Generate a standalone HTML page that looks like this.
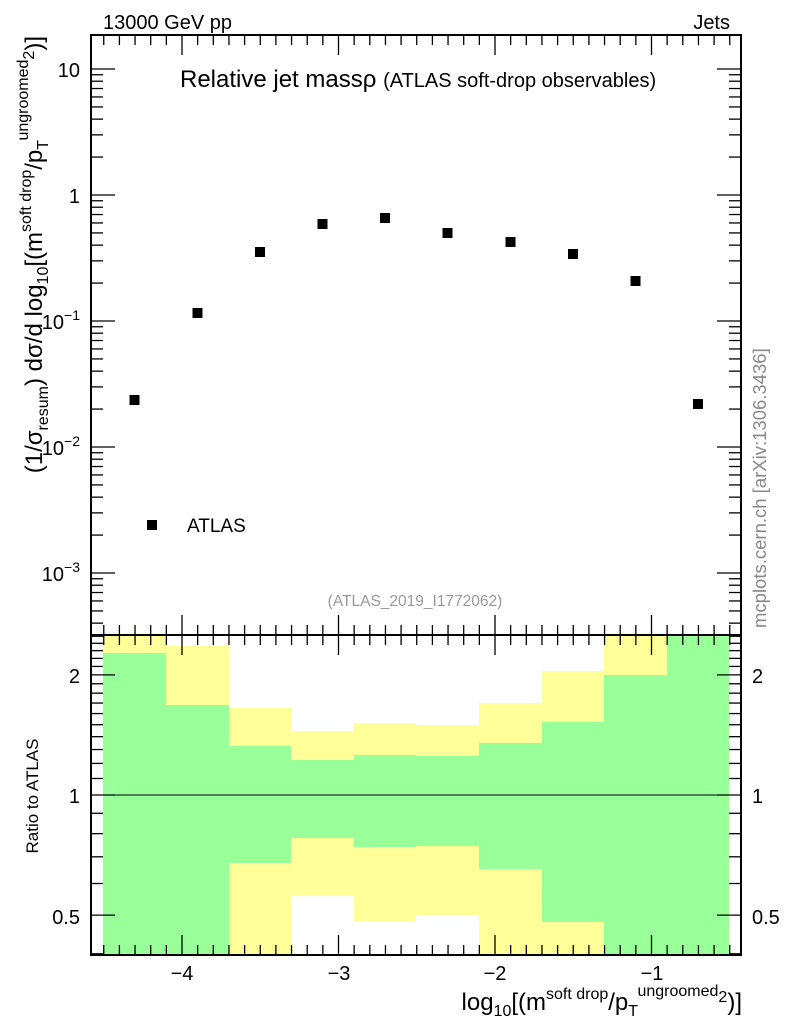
<!DOCTYPE html>
<html><head><meta charset="utf-8"><style>body{margin:0;background:#fff}svg{display:block}text{font-family:"Liberation Sans",sans-serif}</style></head>
<body>
<svg id="s" width="786" height="1024" xmlns="http://www.w3.org/2000/svg">
<g id="bands"></g>
<line x1="91" y1="795" x2="741" y2="795" stroke="#000" stroke-width="1"/>
<g id="pts"></g>
<g id="ticks" stroke="#000" stroke-width="1.3"></g>
<rect x="91" y="35" width="650" height="600" fill="none" stroke="#000" stroke-width="2"/>
<rect x="91" y="635" width="650" height="320" fill="none" stroke="#000" stroke-width="2"/>
<text x="103" y="29" font-size="20">13000 GeV pp</text>
<text x="730" y="29" font-size="20" text-anchor="end">Jets</text>
<text x="180" y="87" font-size="24">Relative jet massρ <tspan font-size="20">(ATLAS soft-drop observables)</tspan></text>
<rect x="147" y="520" width="10" height="10" fill="#000"/>
<text x="187" y="532" font-size="19">ATLAS</text>
<text x="415" y="606" font-size="15.5" fill="#999" text-anchor="middle">(ATLAS_2019_I1772062)</text>
<text transform="translate(766,628) rotate(-90)" font-size="18.5" fill="#888">mcplots.cern.ch [arXiv:1306.3436]</text>
<g font-size="20" text-anchor="end">
<text x="80" y="77">10</text><text x="80" y="203">1</text>
<text x="80" y="329">10<tspan dy="-9" font-size="14">−1</tspan></text>
<text x="80" y="455">10<tspan dy="-9" font-size="14">−2</tspan></text>
<text x="80" y="581">10<tspan dy="-9" font-size="14">−3</tspan></text>
<text x="80" y="683">2</text><text x="80" y="803">1</text><text x="80" y="924">0.5</text>
</g>
<g font-size="20">
<text x="752" y="683">2</text><text x="752" y="803">1</text><text x="752" y="924">0.5</text>
</g>
<g font-size="20" text-anchor="middle">
<text x="182" y="980">−4</text><text x="339" y="980">−3</text><text x="495" y="980">−2</text><text x="652" y="980">−1</text>
</g>
<text transform="translate(38,796) rotate(-90)" font-size="17" text-anchor="middle">Ratio to ATLAS</text>
<text transform="translate(42,36) rotate(-90)" font-size="24" text-anchor="end">(1/σ<tspan font-size="16" dy="6">resum</tspan><tspan dy="-6">) dσ/d log</tspan><tspan font-size="16" dy="6">10</tspan><tspan dy="-6">[(m</tspan><tspan font-size="16" dy="-11">soft drop</tspan><tspan dy="11">/p</tspan><tspan font-size="16" dy="6">T</tspan><tspan font-size="16" dy="-20">ungroomed</tspan><tspan font-size="16" dy="6">2</tspan><tspan dy="8">)]</tspan></text>
<text x="742" y="1010" font-size="24" text-anchor="end">log<tspan font-size="16" dy="6">10</tspan><tspan dy="-6">[(m</tspan><tspan font-size="16" dy="-11">soft drop</tspan><tspan dy="11">/p</tspan><tspan font-size="16" dy="6">T</tspan><tspan font-size="16" dy="-20">ungroomed</tspan><tspan font-size="16" dy="6">2</tspan><tspan dy="8">)]</tspan></text>
<script>
var NS="http://www.w3.org/2000/svg";
function el(p,t,a){var e=document.createElementNS(NS,t);for(var k in a)e.setAttribute(k,a[k]);document.getElementById(p).appendChild(e);}
var ed=[103,166,229,291,354,416,479,542,604,667,729];
var b=[[635,653,955,955],[646,705,955,955],[708,746,863,955],[731,760,838,896],[723,755,847,921],[725,756,846,915],[703,743,869,955],[671,722,922,955],[635,675,955,955],[635,635,955,955]];
for(var i=0;i<10;i++){var x=ed[i],w=ed[i+1]-x,d=b[i];
el("bands","rect",{x:x,y:d[0],width:w,height:d[3]-d[0],fill:"#ffff99"});
el("bands","rect",{x:x,y:d[1],width:w,height:d[2]-d[1],fill:"#99ff99"});}
var py=[400,313,252,224,218,233,242,254,281,404];
for(var i=0;i<10;i++){var cx=(ed[i]+ed[i+1])/2;el("pts","rect",{x:cx-5,y:py[i]-5,width:10,height:10,fill:"#000"});}
function X(v){return 182+(v+4)*156.5;}
for(var v=-4.5;v<=-0.3;v+=0.1){var r=Math.round(v*10)/10,x=X(r);if(x<92||x>740)continue;var maj=Math.abs(r-Math.round(r))<1e-6,L=maj?20:10;
el("ticks","line",{x1:x,y1:35,x2:x,y2:35+L});el("ticks","line",{x1:x,y1:635,x2:x,y2:635-L});el("ticks","line",{x1:x,y1:635,x2:x,y2:635+L});el("ticks","line",{x1:x,y1:955,x2:x,y2:955-L});}
for(var dcd=-4;dcd<=1;dcd++){for(var m=1;m<10;m++){var y=69-(dcd-1)*126-126*Math.log10(m);if(y<36||y>634)continue;var L=m==1?24:12;
el("ticks","line",{x1:91,y1:y,x2:91+L,y2:y});el("ticks","line",{x1:741,y1:y,x2:741-L,y2:y});}}
var rt=[0.4,0.5,0.6,0.7,0.8,0.9,1,1.1,1.2,1.3,1.4,1.5,1.6,1.7,1.8,1.9,2,2.1,2.2,2.3,2.4,2.5];
rt.forEach(function(r){var y=795-399*Math.log10(r);if(y<636||y>954)return;var maj=(r==0.5||r==1||r==2),L=maj?24:12;
el("ticks","line",{x1:91,y1:y,x2:91+L,y2:y});el("ticks","line",{x1:741,y1:y,x2:741-L,y2:y});});
</script>
</svg>
</body></html>
